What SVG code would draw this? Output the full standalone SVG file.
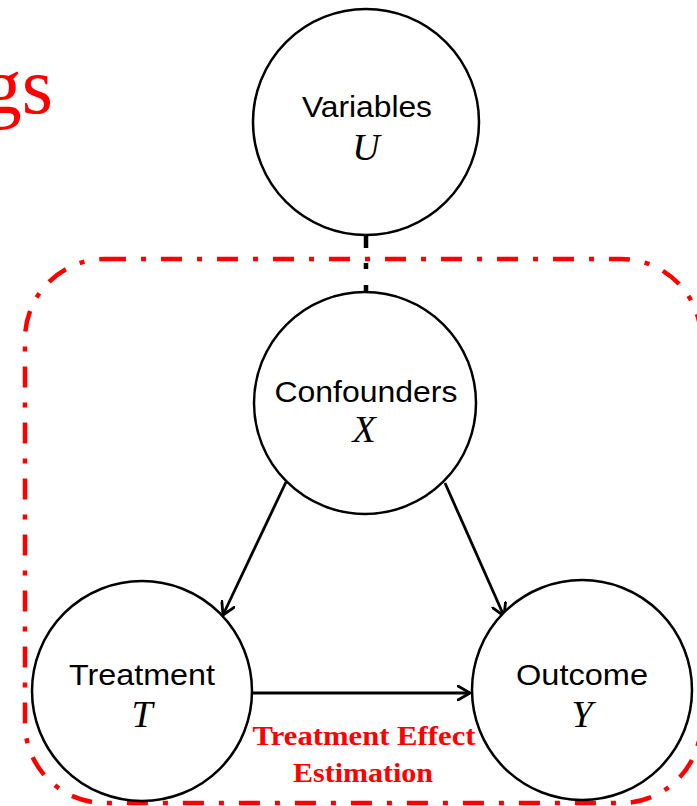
<svg xmlns="http://www.w3.org/2000/svg" width="697" height="806" viewBox="0 0 697 806">
<style>
.node{fill:#fff;stroke:#000;stroke-width:2.5}
.lbl{font-family:"Liberation Sans",Arial,sans-serif;font-size:30px;fill:#000;text-anchor:middle}
.var{font-family:"Liberation Serif","Times New Roman",serif;font-style:italic;font-size:38px;fill:#000;text-anchor:middle}
.edge{fill:none;stroke:#000;stroke-width:2.8}
.red{font-family:"Liberation Serif","Times New Roman",serif;font-weight:bold;font-size:28px;fill:#FF0000;text-anchor:middle}
</style>
<defs>
<marker id="arr" viewBox="0 0 14 16" refX="13" refY="8" markerWidth="14" markerHeight="16" markerUnits="userSpaceOnUse" orient="auto">
<path d="M1,1 L13,8 L1,15" fill="none" stroke="#000" stroke-width="2.8" stroke-linecap="round" stroke-linejoin="round"/>
</marker>
</defs>
<rect fill="#fff" x="0" y="0" width="697" height="806"/>
<text x="53" y="113" font-family="'Liberation Serif','Times New Roman',serif" font-size="80" fill="#FF0000" text-anchor="end">gs</text>
<g id="region">
<rect x="25" y="259" width="676" height="544" rx="80" ry="80" fill="none" stroke="#FF0000" stroke-width="4.5" stroke-dasharray="21 15 5 15"/>
</g>
<g id="connectors">
<line x1="366" y1="235" x2="366" y2="293" stroke="#000" stroke-width="4.5" stroke-dasharray="13 15 6 16 8 100"/>
<line class="edge" x1="286" y1="482" x2="223" y2="615" marker-end="url(#arr)"/>
<line class="edge" x1="445" y1="483" x2="504" y2="616" marker-end="url(#arr)"/>
<line class="edge" x1="253" y1="693" x2="470" y2="693" marker-end="url(#arr)"/>
</g>
<g id="node-U">
<circle class="node" cx="366" cy="122" r="113"/>
<text class="lbl" x="367" y="117" textLength="130" lengthAdjust="spacingAndGlyphs">Variables</text>
<text class="var" x="366" y="160">U</text>
</g>
<g id="node-X">
<circle class="node" cx="365" cy="403" r="111"/>
<text class="lbl" x="366" y="402" textLength="183" lengthAdjust="spacingAndGlyphs">Confounders</text>
<text class="var" x="364" y="442">X</text>
</g>
<g id="node-T">
<circle class="node" cx="142" cy="691" r="110"/>
<text class="lbl" x="142" y="685" textLength="146" lengthAdjust="spacingAndGlyphs">Treatment</text>
<text class="var" x="142" y="727">T</text>
</g>
<g id="node-Y">
<circle class="node" cx="582" cy="690" r="110"/>
<text class="lbl" x="582" y="685" textLength="132" lengthAdjust="spacingAndGlyphs">Outcome</text>
<text class="var" x="582" y="727">Y</text>
</g>
<g id="label">
<text class="red" x="364" y="745" textLength="223" lengthAdjust="spacingAndGlyphs">Treatment Effect</text>
<text class="red" x="363" y="782" textLength="140" lengthAdjust="spacingAndGlyphs">Estimation</text>
</g>
</svg>
